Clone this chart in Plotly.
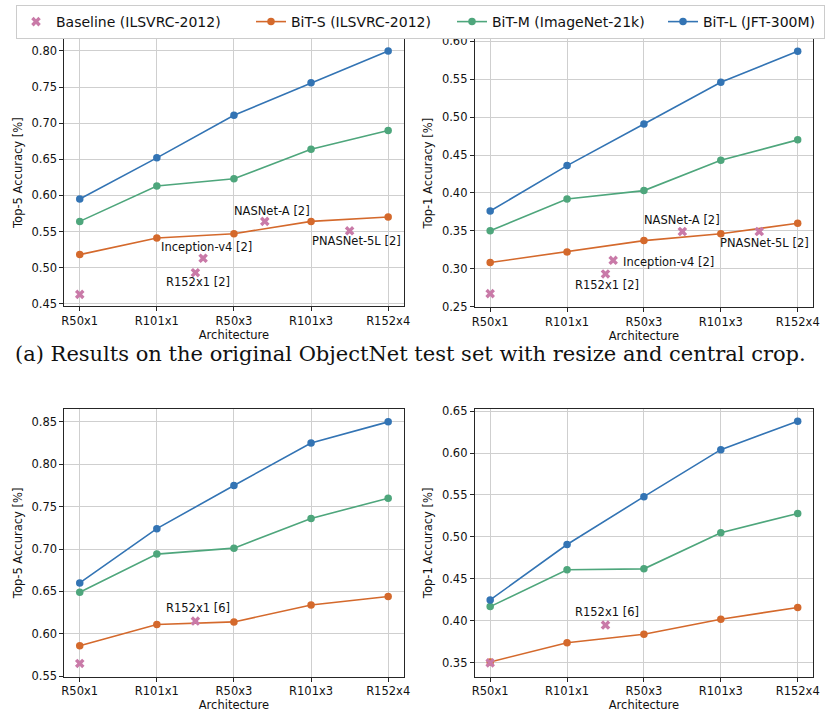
import plotly.graph_objects as go

W, H = 825, 719

categories = ["R50x1", "R101x1", "R50x3", "R101x3", "R152x4"]
cat_pos = [0, 1, 2, 3, 4]

# (a) top-left: Top-5
tl_bit_l = [0.595, 0.652, 0.711, 0.756, 0.800]
tl_bit_m = [0.564, 0.613, 0.623, 0.664, 0.690]
tl_bit_s = [0.518, 0.541, 0.547, 0.564, 0.570]
tl_base_x = [0, 1.5, 1.6, 2.4, 3.5]
tl_base_y = [0.463, 0.493, 0.513, 0.564, 0.551]

# (a) top-right: Top-1
tr_bit_l = [0.376, 0.436, 0.491, 0.546, 0.587]
tr_bit_m = [0.350, 0.392, 0.403, 0.443, 0.470]
tr_bit_s = [0.308, 0.322, 0.337, 0.346, 0.360]
tr_base_x = [0, 1.5, 1.6, 2.5, 3.5]
tr_base_y = [0.267, 0.293, 0.311, 0.349, 0.349]

# bottom-left: Top-5
bl_bit_l = [0.660, 0.724, 0.775, 0.825, 0.850]
bl_bit_m = [0.649, 0.694, 0.701, 0.736, 0.760]
bl_bit_s = [0.586, 0.611, 0.614, 0.634, 0.644]
bl_base_x = [0, 1.5]
bl_base_y = [0.565, 0.615]

# bottom-right: Top-1
br_bit_l = [0.425, 0.491, 0.548, 0.604, 0.638]
br_bit_m = [0.417, 0.461, 0.462, 0.505, 0.528]
br_bit_s = [0.351, 0.374, 0.384, 0.402, 0.416]
br_base_x = [0, 1.5]
br_base_y = [0.350, 0.395]

C_BASE = "#c97aa8"
C_S = "#d4692c"
C_M = "#4ea67c"
C_L = "#3374b4"
FONT = "DejaVu Sans"

panels = [
    dict(ax="", dom_x=(62, 405), dom_y=(35, 306), yr=(0.447, 0.816),
         l=tl_bit_l, m=tl_bit_m, s=tl_bit_s, bx=tl_base_x, by=tl_base_y,
         ytitle="Top-5 Accuracy [%]",
         notes=[("NASNet-A [2]", 2.495, 0.579, "center"),
                ("Inception-v4 [2]", 1.647, 0.529, "center"),
                ("R152x1 [2]", 1.53, 0.480, "center"),
                ("PNASNet-5L [2]", 3.59, 0.537, "center")]),
    dict(ax="2", dom_x=(477, 819), dom_y=(35, 307), yr=(0.2495, 0.6026),
         l=tr_bit_l, m=tr_bit_m, s=tr_bit_s, bx=tr_base_x, by=tr_base_y,
         ytitle="Top-1 Accuracy [%]",
         notes=[("NASNet-A [2]", 2.49, 0.364, "center"),
                ("PNASNet-5L [2]", 3.57, 0.334, "center"),
                ("Inception-v4 [2]", 2.32, 0.309, "center"),
                ("R152x1 [2]", 1.52, 0.278, "center")]),
    dict(ax="3", dom_x=(62, 405), dom_y=(411, 683), yr=(0.5495, 0.865),
         l=bl_bit_l, m=bl_bit_m, s=bl_bit_s, bx=bl_base_x, by=bl_base_y,
         ytitle="Top-5 Accuracy [%]",
         notes=[("R152x1 [6]", 1.53, 0.630, "center")]),
    dict(ax="4", dom_x=(477, 819), dom_y=(411, 683), yr=(0.3336, 0.6523),
         l=br_bit_l, m=br_bit_m, s=br_bit_s, bx=br_base_x, by=br_base_y,
         ytitle="Top-1 Accuracy [%]",
         notes=[("R152x1 [6]", 1.52, 0.410, "center")]),
]

fig = go.Figure()
annotations = []
layout = {}

for i, p in enumerate(panels):
    xa = "x" + p["ax"]
    ya = "y" + p["ax"]
    first = (i == 0)
    series = [
        ("BiT-S (ILSVRC-2012)", p["s"], C_S, 2, 156),
        ("BiT-M (ImageNet-21k)", p["m"], C_M, 3, 166),
        ("BiT-L (JFT-300M)", p["l"], C_L, 4, 116),
    ]
    for name, vals, col, rank, lw in series:
        fig.add_trace(go.Scatter(
            x=cat_pos, y=vals, mode="lines+markers", name=name,
            line=dict(color=col, width=1.6),
            marker=dict(color=col, size=7.5),
            xaxis=xa, yaxis=ya, showlegend=first, legendrank=rank,
            legendwidth=lw, legendgroup=name))
    fig.add_trace(go.Scatter(
        x=p["bx"], y=p["by"], mode="markers", name="Baseline (ILSVRC-2012)",
        marker=dict(color=C_BASE, symbol="x", size=8.5, line=dict(width=0)),
        xaxis=xa, yaxis=ya, showlegend=first, legendrank=1,
        legendwidth=190, legendgroup="base"))

    axsuffix = p["ax"]
    xk = "xaxis" + axsuffix
    yk = "yaxis" + axsuffix
    common = dict(showline=True, mirror=True, linecolor="#262626", linewidth=1,
                  ticks="outside", ticklen=4, tickcolor="#262626",
                  showgrid=True, gridcolor="#cfcfcf", gridwidth=1.2,
                  zeroline=False, tickfont=dict(family=FONT, size=11.5, color="#111"),
                  title_font=dict(family=FONT, size=11.5, color="#111"))
    layout[xk] = dict(common, domain=[p["dom_x"][0] / W, p["dom_x"][1] / W],
                      range=[-0.2, 4.2], tickvals=cat_pos, ticktext=categories,
                      anchor=ya, title=dict(text="Architecture", standoff=1))
    layout[yk] = dict(common, domain=[1 - p["dom_y"][1] / H, 1 - p["dom_y"][0] / H],
                      range=list(p["yr"]), dtick=0.05, tickformat=".2f",
                      anchor=xa, title=dict(text=p["ytitle"], standoff=6))
    for txt, x, y, anc in p["notes"]:
        annotations.append(dict(text=txt, x=x, y=y, xref=xa, yref=ya,
                                showarrow=False, xanchor=anc, yanchor="middle",
                                font=dict(family=FONT, size=11.5, color="#111")))

annotations.append(dict(
    text="(a) Results on the original ObjectNet test set with resize and central crop.",
    x=412 / W, y=1 - 355 / H, xref="paper", yref="paper", showarrow=False,
    xanchor="center", yanchor="middle",
    font=dict(family="DejaVu Serif", size=21, color="#111")))

fig.update_layout(
    width=W, height=H, margin=dict(l=0, r=0, t=0, b=0),
    paper_bgcolor="white", plot_bgcolor="white",
    annotations=annotations,
    legend=dict(orientation="h", x=18 / W, xanchor="left", y=1, yanchor="top",
                bordercolor="#cccccc", borderwidth=1, bgcolor="white",
                font=dict(family=FONT, size=14, color="#111"),
                itemclick=False, itemdoubleclick=False),
    **layout,
)

fig.write_html("out.html",
               config={"displayModeBar": False},
               post_script="document.body.style.margin='0';document.body.style.padding='0';")
